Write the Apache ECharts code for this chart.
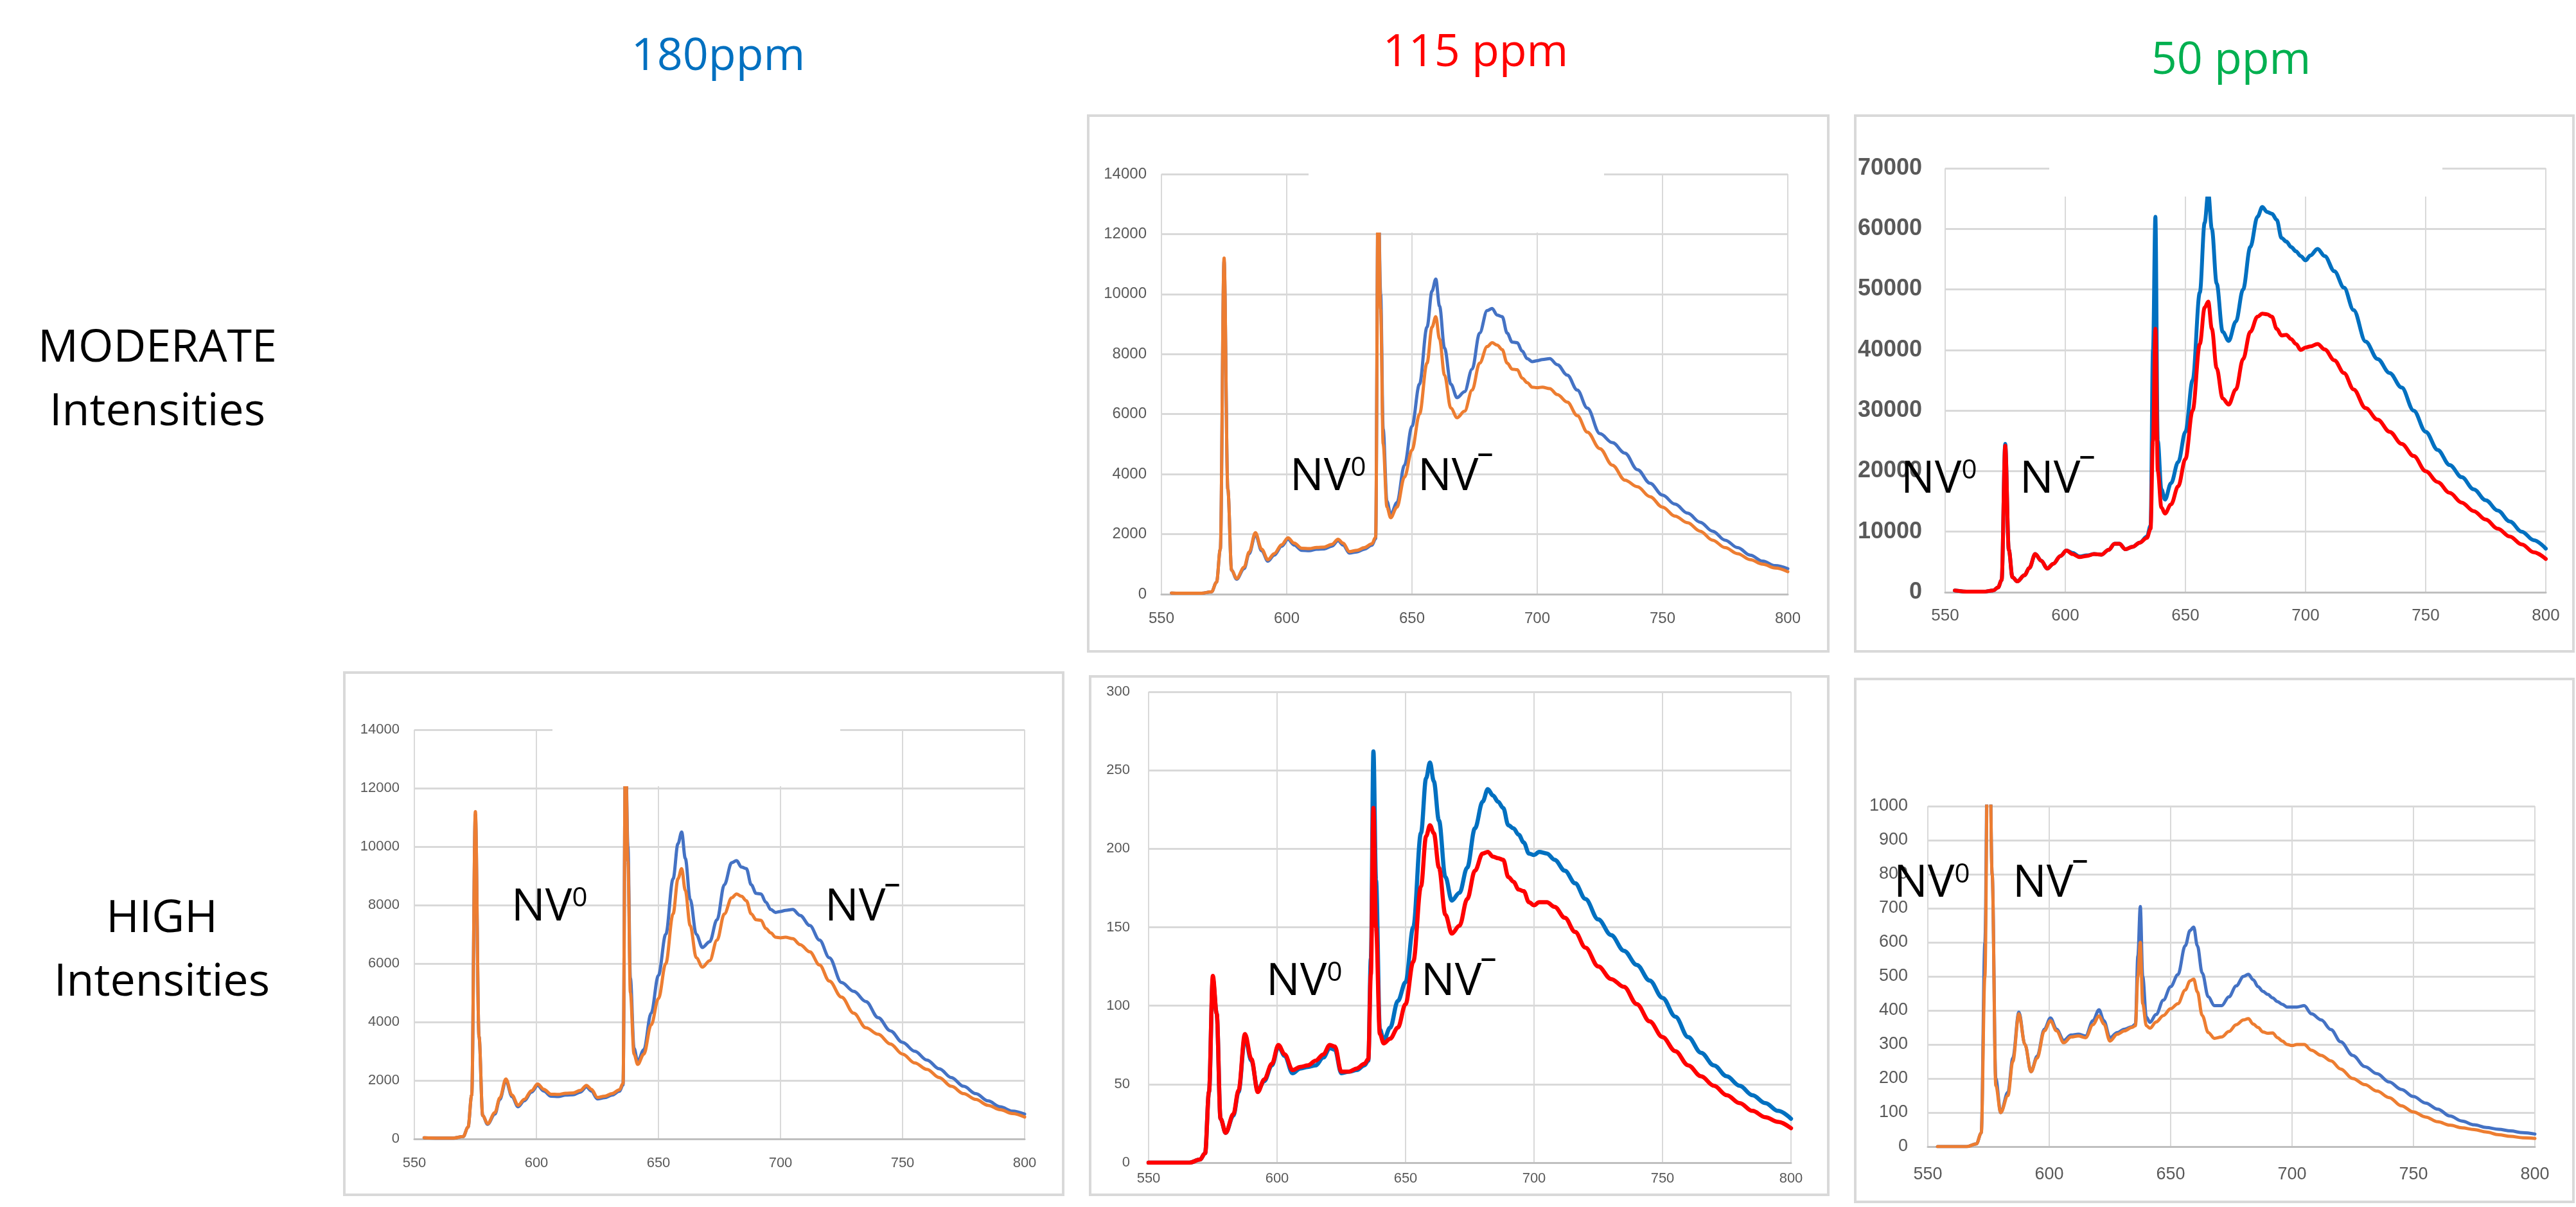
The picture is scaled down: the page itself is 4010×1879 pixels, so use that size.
<!DOCTYPE html>
<html>
<head>
<meta charset="utf-8">
<title>NV0 / NV- emission spectra</title>
<script src="https://cdn.jsdelivr.net/npm/echarts@6/dist/echarts.min.js"></script>
<style>
  html, body { margin: 0; padding: 0; background: #fff; }
  #chart { width: 4010px; height: 1879px; }
</style>
</head>
<body>
<div id="chart"></div>
<script>
// wavelength grid, nm (shared by every spectrum)
const wavelength = [
  550, 554, 560, 566, 570, 572,
  573.5, 575, 576.5, 578, 580,
  583, 585, 587.5, 590, 592.5,
  595, 598, 600.5, 603, 606,
  609, 612, 615, 618, 620.5,
  622.5, 625, 628, 631, 634,
  635.5, 636.5, 637.5, 638.5, 640,
  641.5, 644, 647, 650, 653,
  656, 658, 659.5, 661, 663,
  665.5, 668, 671, 674, 677,
  680, 682, 684, 686, 688,
  690, 692, 694, 696, 698,
  700, 702, 705, 708, 712,
  716, 720, 725, 730, 735,
  740, 745, 750, 755, 760,
  765, 770, 775, 780, 785,
  790, 795, 800
];

// 115 ppm, moderate intensity
const mod115Blue = [
  null, 40, 30, 30, 80, 400,
  1500, 11100, 3500, 800, 500,
  850, 1350, 1990, 1450, 1100,
  1300, 1600, 1830, 1640, 1460,
  1450, 1500, 1510, 1600, 1780,
  1640, 1370, 1410, 1500, 1630,
  1850, 13500, 10000, 5500, 3100,
  2650, 3050, 4300, 5600, 7000,
  8900, 10100, 10500, 9600, 8200,
  7000, 6550, 6750, 7500, 8700,
  9450, 9520, 9300, 9250, 8700,
  8400, 8380, 8100, 7850, 7750,
  7780, 7820, 7850, 7650, 7300,
  6800, 6200, 5350, 5050, 4700,
  4150, 3700, 3300, 3000, 2700,
  2400, 2100, 1800, 1550, 1300,
  1100, 950, 850
];
const mod115Orange = [
  null, 40, 30, 30, 80, 400,
  1500, 11200, 3500, 800, 520,
  900, 1400, 2050, 1500, 1150,
  1350, 1650, 1880, 1700, 1530,
  1520, 1560, 1570, 1660, 1830,
  1700, 1420, 1460, 1550, 1680,
  1900, 13500, 9500, 5000, 2900,
  2550, 2900, 3900, 4800, 6000,
  7700, 8900, 9250, 8500, 7300,
  6200, 5880, 6100, 6800, 7700,
  8250, 8380, 8300, 8150, 7700,
  7500, 7480, 7200, 7050, 6900,
  6880, 6900, 6850, 6650, 6400,
  5950, 5400, 4850, 4300, 3800,
  3580, 3250, 2900, 2600, 2380,
  2100, 1800, 1550, 1350, 1150,
  1000, 870, 750
];

// 50 ppm, moderate intensity
const mod50Blue = [
  null, 300, 100, 100, 300, 800,
  2000, 24500, 7000, 2500, 1800,
  2800, 4000, 6300, 5200, 3900,
  4700, 6000, 6900, 6500, 5900,
  6100, 6300, 6200, 7000, 8000,
  8000, 7100, 7500, 8200, 9200,
  11000, 40000, 62000, 25000, 17000,
  15300, 18000, 21500, 26500, 35000,
  49500, 61000, 66000, 60000, 51000,
  43000, 41500, 44700, 50000, 57000,
  62000, 63600, 62800, 62500, 61500,
  58500, 57900, 57000, 56300, 55500,
  54800, 55600, 56700, 55500, 53000,
  50300, 46600, 41400, 38500, 36200,
  33800, 30000, 26500, 23500, 21000,
  19000, 17000, 15200, 13500, 11700,
  10000, 8600, 7200
];
const mod50Red = [
  null, 300, 100, 100, 300, 800,
  2000, 24200, 7000, 2500, 1800,
  2800, 4000, 6300, 5200, 3900,
  4700, 6000, 6900, 6300, 5800,
  6000, 6300, 6200, 7000, 8000,
  8000, 7100, 7500, 8200, 9000,
  10500, 25000, 43500, 20000, 14000,
  13000, 14500, 17500, 22000, 30000,
  41000, 47000, 48000, 43500, 37000,
  32000, 31000, 33500, 38500, 43000,
  45500, 46000, 45900, 45500, 43500,
  42400, 42500, 41800, 41000, 40000,
  40400, 40600, 41000, 40100, 38300,
  36200, 33500, 30400, 28500, 26500,
  24500, 22500, 20000, 18200, 16400,
  14800, 13400, 12000, 10500, 9200,
  7900, 6600, 5500
];

// 180 ppm, high intensity (same spectra as the 115 ppm moderate panel)
const high180Blue = mod115Blue.slice();
const high180Orange = mod115Orange.slice();

// 115 ppm, high intensity
const high115Blue = [
  0, 0, 0, 0, 2, 6,
  45, 117, 95, 28, 19,
  30, 45, 80, 65, 46,
  52, 62, 74, 68, 57,
  60, 61, 62, 67, 73,
  72, 57, 58, 59, 62,
  65, 130, 262, 180, 85,
  78, 86, 103, 115, 150,
  210, 245, 255, 243, 218,
  182, 167, 172, 188, 213,
  230, 238, 234, 230, 226,
  215, 213, 209, 204, 197,
  196, 198, 197, 193, 186,
  178, 168, 155, 145, 135,
  126, 116, 105, 93, 80,
  70, 62, 55, 49, 43,
  38, 33, 28
];
const high115Red = [
  0, 0, 0, 0, 2, 6,
  45, 119, 95, 28, 19,
  31, 46, 82, 66, 45,
  53, 63, 75, 69, 59,
  61, 62, 65, 69, 75,
  74, 58, 58, 60, 63,
  66, 120, 226, 150, 82,
  76, 79, 86, 101, 128,
  176, 208, 215, 210, 188,
  158, 146, 151, 168, 186,
  197, 198, 195, 194, 193,
  182, 179, 174, 173, 166,
  164, 166, 166, 163, 156,
  147, 137, 125, 117, 112,
  101, 90, 80, 71, 62,
  55, 49, 43, 38, 33,
  29, 26, 22
];

// 50 ppm, high intensity
const high50Blue = [
  null, 0, 0, 0, 8, 40,
  600, 1500, 800, 200, 100,
  160, 260, 395, 300, 220,
  265, 345, 378, 345, 312,
  328, 330, 325, 370, 402,
  370, 320, 335, 345, 352,
  360, 560, 705, 500, 380,
  365, 388, 430, 470, 505,
  590, 635, 645, 590, 510,
  440, 414, 414, 440, 472,
  500, 506, 490, 470, 456,
  447, 437, 426, 418, 410,
  410, 410, 414, 390, 372,
  344, 308, 268, 235, 214,
  190, 168, 147, 128, 110,
  90, 75, 64, 56, 51,
  46, 41, 37
];
const high50Orange = [
  null, 0, 0, 0, 8, 40,
  500, 1500, 800, 180, 100,
  150, 250, 390, 300, 220,
  260, 340, 370, 340, 305,
  322, 325, 320, 358, 384,
  360, 310, 330, 340, 350,
  355, 500, 600, 420, 355,
  348, 366, 385, 405, 420,
  460, 487, 492, 455, 385,
  335, 318, 322, 338, 358,
  372, 376, 360, 350, 337,
  333, 334, 320, 310, 300,
  297, 300, 300, 283, 268,
  252, 228, 200, 182, 163,
  144, 120, 102, 87, 73,
  63, 55, 50, 43, 35,
  30, 26, 24
];

const BLUE = '#4472C4', ORANGE = '#ED7D31', DBLUE = '#0070C0', RED = '#FF0000';
const LABEL = '#595959', GRIDC = '#D9D9D9';
const SANS = '"Liberation Sans", Arial, sans-serif';
const TXT = '"Open Sans", "Noto Sans", sans-serif';

// one entry per small chart
const panels = [
  { grid: { left: 1808, top: 271, width: 975, height: 654 }, yMax: 14000, yStep: 2000,
    font: 24, yMargin: 23, xMargin: 26, lw: 5,
    lines: [[mod115Blue, BLUE], [mod115Orange, ORANGE]] },
  { grid: { left: 3028, top: 262, width: 935, height: 660 }, yMax: 70000, yStep: 10000,
    font: 26, yFont: 36, yBold: true, yMargin: 36, xMargin: 24, lw: 6,
    lines: [[mod50Blue, DBLUE], [mod50Red, RED]] },
  { grid: { left: 645, top: 1136, width: 950, height: 637 }, yMax: 14000, yStep: 2000,
    font: 22, yMargin: 23, xMargin: 27, lw: 5,
    lines: [[high180Blue, BLUE], [high180Orange, ORANGE]] },
  { grid: { left: 1788, top: 1077, width: 1000, height: 733 }, yMax: 300, yStep: 50,
    font: 22, yMargin: 29, xMargin: 14, lw: 6.5,
    lines: [[high115Blue, DBLUE], [high115Red, RED]] },
  { grid: { left: 3001, top: 1255, width: 945, height: 530 }, yMax: 1000, yStep: 100,
    font: 27, yMargin: 31, xMargin: 30, lw: 5,
    lines: [[high50Blue, BLUE], [high50Orange, ORANGE]] }
];

const plain = v => String(v);   // no thousands separators, as in the original
const grids = [], xAxes = [], yAxes = [], series = [];
panels.forEach((p, i) => {
  grids.push(Object.assign({ containLabel: false }, p.grid));
  xAxes.push({
    type: 'value', gridIndex: i, min: 550, max: 800, interval: 50,
    axisLine: { show: true, onZero: false, lineStyle: { color: '#BFBFBF', width: 3 } },
    axisTick: { show: false },
    axisLabel: { color: LABEL, fontSize: p.font, fontFamily: SANS, margin: p.xMargin, formatter: plain },
    splitLine: { show: true, lineStyle: { color: GRIDC, width: 2 } }
  });
  yAxes.push({
    type: 'value', gridIndex: i, min: 0, max: p.yMax, interval: p.yStep,
    axisLine: { show: false }, axisTick: { show: false },
    axisLabel: { color: LABEL, fontSize: p.yFont || p.font, fontFamily: SANS,
      fontWeight: p.yBold ? 'bold' : 'normal', margin: p.yMargin, formatter: plain },
    splitLine: { show: true, lineStyle: { color: GRIDC, width: 3 } }
  });
  p.lines.forEach(([vals, color]) => {
    series.push({
      type: 'line', xAxisIndex: i, yAxisIndex: i,
      data: wavelength.map((w, k) => [w, vals[k]]).filter(d => d[1] !== null),
      symbol: 'none', showSymbol: false, smooth: 0.35, smoothMonotone: 'x',
      lineStyle: { color: color, width: p.lw, join: 'round', cap: 'round' },
      itemStyle: { color: color },
      silent: true, clip: true
    });
  });
});

// panel frames
function frame(x, y, w, h) {
  return { type: 'rect', z: 1, silent: true, shape: { x: x, y: y, width: w, height: h },
    style: { fill: 'none', stroke: GRIDC, lineWidth: 4 } };
}
// white patches where the original chart titles were cut away
function patch(x, y, w, h) {
  return { type: 'rect', z: 50, silent: true, shape: { x: x, y: y, width: w, height: h },
    style: { fill: '#ffffff' } };
}
function text(str, x, y, size, color, align) {
  return { type: 'text', z: 60, silent: true, x: x, y: y,
    style: { text: str, fontSize: size, fontFamily: TXT, fill: color,
      align: align || 'center', verticalAlign: 'middle' } };
}
function nv(x, y, minus) {
  return { type: 'text', z: 60, silent: true, x: x, y: y,
    style: {
      text: minus ? '{n|NV}{m|¯}' : '{n|NV}{s|0}',
      align: 'left', verticalAlign: 'middle',
      rich: {
        n: { fontSize: 70, fontFamily: TXT, fill: '#000', color: '#000' },
        s: { fontSize: 42, fontFamily: TXT, fill: '#000', color: '#000', verticalAlign: 'top' },
        m: { fontSize: 42, fontFamily: TXT, fontWeight: 'bold', fill: '#000', color: '#000', verticalAlign: 'top' }
      }
    } };
}

const graphics = [
  frame(1694, 180, 1152, 834),
  frame(2888, 180, 1118, 834),
  frame(536, 1047, 1119, 813),
  frame(1697, 1053, 1149, 807),
  frame(2888, 1057, 1118, 814),
  patch(2037, 186, 460, 176),
  patch(860, 1052, 448, 172),
  patch(3190, 186, 612, 120),
  text('180ppm', 1118, 89, 70, '#0070C0'),
  text('115 ppm', 2297, 83, 70, '#FF0000'),
  text('50 ppm', 3473, 95, 70, '#00B050'),
  text('MODERATE', 245, 543, 70, '#000'),
  text('Intensities', 245, 642, 70, '#000'),
  text('HIGH', 252, 1431, 70, '#000'),
  text('Intensities', 252, 1530, 70, '#000'),
  nv(2008, 743, false), nv(2207, 743, true),
  nv(2959, 747, false), nv(3144, 747, true),
  nv(796, 1413, false), nv(1284, 1413, true),
  nv(1971, 1529, false), nv(2212, 1529, true),
  nv(2948, 1376, false), nv(3133, 1376, true)
];

const chart = echarts.init(document.getElementById('chart'), null, { renderer: 'canvas' });
chart.setOption({
  backgroundColor: '#ffffff',
  animation: false,
  grid: grids,
  xAxis: xAxes,
  yAxis: yAxes,
  series: series,
  graphic: { elements: graphics }
});
</script>
</body>
</html>
